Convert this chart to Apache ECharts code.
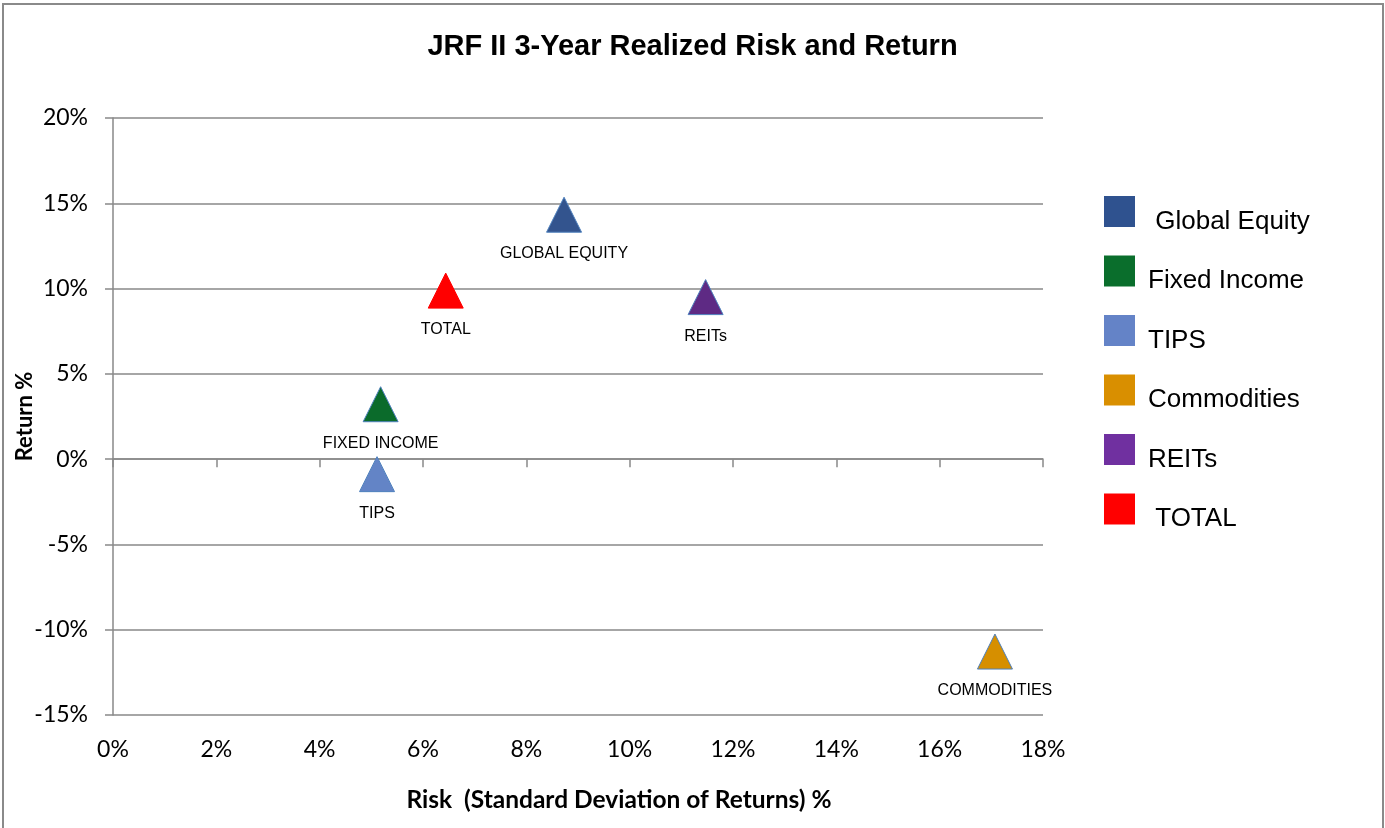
<!DOCTYPE html>
<html>
<head>
<meta charset="utf-8">
<script src="https://cdn.jsdelivr.net/npm/echarts@6/dist/echarts.min.js"></script>
<style>
html,body{margin:0;padding:0;background:#fff;}
#chart{width:1385px;height:828px;}
</style>
</head>
<body>
<div id="chart"></div>
<script>
// ---- data ----
const seriesNames = [' Global Equity', 'Fixed Income', 'TIPS', 'Commodities', 'REITs', ' TOTAL'];
const pointLabels = ['GLOBAL EQUITY', 'FIXED INCOME', 'TIPS', 'COMMODITIES', 'REITs', 'TOTAL'];
const riskValues = [8.73, 5.18, 5.11, 17.07, 11.47, 6.44];     // x: std dev %
const returnValues = [14.33, 3.22, -0.88, -11.28, 9.50, 9.88]; // y: return %
const xTicks = [0, 2, 4, 6, 8, 10, 12, 14, 16, 18];
const yTicks = [-15, -10, -5, 0, 5, 10, 15, 20];

// ---- styles ----
const markerColors = ['#33548E', '#0B6B2B', '#6384C6', '#D68F00', '#5E2A84', '#FF0000'];
const legendColors = ['#2F528F', '#0A6E2C', '#6483C7', '#D98F00', '#7030A0', '#FF0000'];
const markerBorders = ['#4F81BD', '#4F81BD', '#4F81BD', '#4F81BD', '#4F81BD', '#FF0000'];
const gridColor = '#898989';
const tickFont = 'Lato, "Open Sans", sans-serif';
const arial = '"Liberation Sans", Arial, sans-serif';

const chart = echarts.init(document.getElementById('chart'), null, {renderer: 'canvas'});

const series = seriesNames.map((name, i) => ({
  name: name,
  type: 'scatter',
  xAxisIndex: 0,
  yAxisIndex: 0,
  symbol: 'triangle',
  symbolSize: [35, 35],
  itemStyle: {color: markerColors[i], borderColor: markerBorders[i], borderWidth: 1, opacity: 1},
  label: {
    show: true,
    position: 'bottom',
    distance: 13,
    formatter: pointLabels[i],
    fontFamily: arial,
    fontSize: 16,
    color: '#000'
  },
  emphasis: {disabled: true},
  data: [[riskValues[i], returnValues[i]]]
}));

const option = {
  animation: false,
  backgroundColor: '#fff',
  title: {
    text: 'JRF II 3-Year Realized Risk and Return',
    left: 'center',
    top: 27,
    textStyle: {fontFamily: arial, fontWeight: 'bold', fontSize: 29, color: '#000'}
  },
  grid: {left: 113, right: 342, top: 118, bottom: 113, containLabel: false, outerBoundsMode: 'none'},
  legend: {
    orient: 'vertical',
    left: 1099,
    top: 191,
    itemWidth: 31,
    itemHeight: 31,
    itemGap: 21,
    icon: 'rect',
    selectedMode: false,
    data: seriesNames.map((n, i) => ({name: n, itemStyle: {color: legendColors[i], borderWidth: 0}})),
    formatter: n => '{t|' + n + '}',
    textStyle: {
      fontFamily: arial, fontSize: 26, color: '#000',
      rich: {t: {fontFamily: arial, fontSize: 26, color: '#000', padding: [20, 0, 0, 8]}}
    }
  },
  xAxis: [
    {
      type: 'value',
      position: 'bottom',
      min: xTicks[0],
      max: xTicks[xTicks.length - 1],
      interval: 2,
      axisLine: {show: false, onZero: false},
      axisTick: {show: false},
      splitLine: {show: false},
      axisLabel: {formatter: '{value}%', fontFamily: tickFont, fontSize: 23, color: '#000', margin: 23}
    },
    {
      type: 'value',
      position: 'top',
      min: xTicks[0],
      max: xTicks[xTicks.length - 1],
      interval: 2,
      axisLine: {show: true, onZero: true, lineStyle: {color: gridColor, width: 1.5}},
      axisTick: {show: true, inside: true, length: 8, lineStyle: {color: gridColor, width: 1.5}},
      splitLine: {show: false},
      axisLabel: {show: false}
    }
  ],
  yAxis: {
    type: 'value',
    min: yTicks[0],
    max: yTicks[yTicks.length - 1],
    interval: 5,
    name: 'Return %',
    nameLocation: 'middle',
    nameGap: 77,
    nameMoveOverlap: false,
    nameRotate: 90,
    nameTextStyle: {fontFamily: tickFont, fontWeight: 'bold', fontSize: 22, color: '#000'},
    axisLine: {show: true, lineStyle: {color: gridColor, width: 1.5}},
    axisTick: {show: true, inside: false, length: 8, lineStyle: {color: gridColor, width: 1.5}},
    splitLine: {show: true, lineStyle: {color: gridColor, width: 1.5}},
    axisLabel: {formatter: '{value}%', fontFamily: tickFont, fontSize: 23, color: '#000', margin: 25}
  },
  graphic: [
    {
      type: 'rect',
      shape: {x: 3, y: 4, width: 1380, height: 840},
      style: {fill: null, stroke: '#8a8a8a', lineWidth: 2},
      silent: true,
      z: 100
    },
    {
      type: 'text',
      x: 619,
      y: 800,
      style: {
        text: 'Risk  (Standard Deviation of Returns) %',
        fontFamily: tickFont,
        fontWeight: 'bold',
        fontSize: 24.5,
        fill: '#000',
        align: 'center',
        verticalAlign: 'middle'
      },
      silent: true
    }
  ],
  series: series
};

chart.setOption(option);
</script>
</body>
</html>
